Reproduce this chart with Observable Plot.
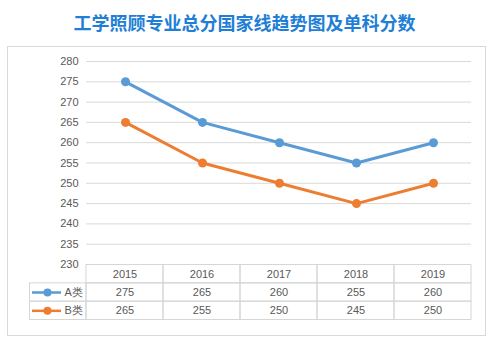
<!DOCTYPE html>
<html>
<head>
<meta charset="utf-8">
<script src="https://cdn.jsdelivr.net/npm/d3@7"></script>
<script src="https://cdn.jsdelivr.net/npm/@observablehq/plot@0.6"></script>
<style>
  html, body { margin: 0; padding: 0; background: #fff; }
  #wrap { position: relative; width: 489px; height: 343px; overflow: hidden; background: #fff; }
  #title { position: absolute; left: 0; top: 9px; width: 489px; text-align: center;
    font-family: "Noto Sans CJK SC", sans-serif; font-size: 18px; font-weight: bold; color: #1f7fd6; line-height: 26px; }
  #frame { position: absolute; left: 7px; top: 46px; width: 477px; height: 288px; border: 1px solid #d9d9d9; }
  #chart { position: absolute; left: 0; top: 40px; }
  #table { position: absolute; left: 0; top: 260px; }
  svg { overflow: visible; }
</style>
</head>
<body>
<div id="wrap">
  <div id="title">工学照顾专业总分国家线趋势图及单科分数</div>
  <div id="frame"></div>
  <div id="chart"></div>
  <div id="table"></div>
</div>
<script>
const title = "工学照顾专业总分国家线趋势图及单科分数";
const years = [2015, 2016, 2017, 2018, 2019];
const seriesNames = ["A类", "B类"];
const valuesA = [275, 265, 260, 255, 260];
const valuesB = [265, 255, 250, 245, 250];
const yTicks = [230, 235, 240, 245, 250, 255, 260, 265, 270, 275, 280];
const seriesColors = ["#5B9BD5", "#ED7D31"];

const seriesValues = [valuesA, valuesB];
const data = seriesNames.flatMap((s, k) => years.map((y, i) => ({series: s, year: y, value: seriesValues[k][i]})));

const font = "'Liberation Sans', Arial, sans-serif";
const gridColor = "#d9d9d9";

const chart = Plot.plot({
  width: 489, height: 230,
  marginTop: 21, marginBottom: 6, marginLeft: 86, marginRight: 18,
  x: {type: "point", domain: years, padding: 0.5, axis: null},
  y: {domain: [230, 280], ticks: yTicks, tickSize: 0, tickPadding: 8, label: null},
  color: {domain: seriesNames, range: seriesColors},
  style: {fontSize: "11px", fontFamily: font, color: "#595959", background: "transparent"},
  marks: [
    Plot.ruleY(yTicks, {stroke: gridColor, strokeWidth: 1}),
    Plot.line(data, {x: "year", y: "value", z: "series", stroke: "series", strokeWidth: 3}),
    Plot.dot(data, {x: "year", y: "value", fill: "series", r: 4.5, stroke: "none"})
  ]
});
document.getElementById("chart").appendChild(chart);

// table below
const colW = 77;
const u = px => (px - 86) / colW;
const cells = [];
for (let r = 0; r < 3; r++) for (let i = 0; i < years.length; i++) cells.push({x1: i, x2: i + 1, y1: r, y2: r + 1});
seriesNames.forEach((s, k) => cells.push({x1: u(29.5), x2: 0, y1: k + 1, y2: k + 2}));
const header = years.map((y, i) => ({i, label: String(y)}));
const valueCells = data.map(d => ({i: years.indexOf(d.year), r: seriesNames.indexOf(d.series) + 1, label: String(d.value), series: d.series}));
const legendRows = seriesNames.map((s, k) => ({series: s, r: k + 1}));

const table = Plot.plot({
  width: 489, height: 64,
  marginTop: 4.5, marginBottom: 4.5, marginLeft: 86, marginRight: 18,
  x: {domain: [0, years.length], axis: null},
  y: {domain: [0, 3], reverse: true, axis: null},
  color: {domain: seriesNames, range: seriesColors},
  style: {fontSize: "11px", fontFamily: font, color: "#595959", background: "transparent"},
  marks: [
    Plot.rect(cells, {x1: "x1", x2: "x2", y1: "y1", y2: "y2", fill: "none", stroke: "#d6d6d6"}),
    Plot.text(header, {x: d => d.i + 0.5, y: 0.5, text: "label", fill: "#595959"}),
    Plot.text(valueCells, {x: d => d.i + 0.5, y: d => d.r + 0.5, text: "label", fill: "#595959"}),
    Plot.ruleY(legendRows, {y: d => d.r + 0.5, x1: u(32), x2: u(61), stroke: "series", strokeWidth: 2.5}),
    Plot.dot(legendRows, {x: u(47), y: d => d.r + 0.5, fill: "series", r: 4, stroke: "none"}),
    Plot.text(legendRows, {x: u(64), y: d => d.r + 0.5, text: "series", textAnchor: "start", fill: "#595959"})
  ]
});
document.getElementById("table").appendChild(table);
</script>
</body>
</html>
